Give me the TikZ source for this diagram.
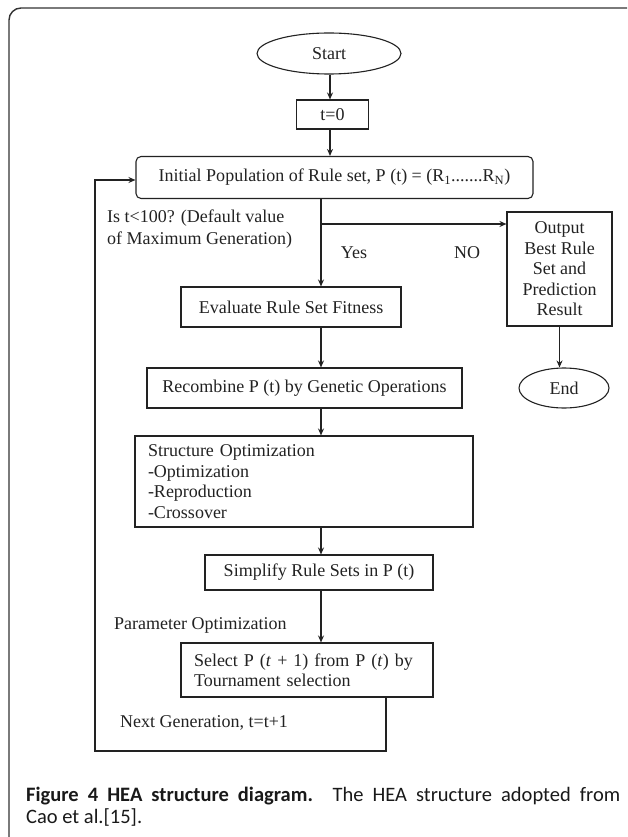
\documentclass[tikz,border=0pt]{standalone}
\usepackage{fontspec}
\setmainfont{Liberation Serif}
\newfontfamily\capfont{Carlito}
\usetikzlibrary{shapes.geometric,arrows.meta}
\definecolor{ink}{HTML}{222222}
\begin{document}
\begin{tikzpicture}[x=1pt,y=-1pt,
  diafont/.style={font=\fontsize{18}{20.5}\selectfont},
  box/.style={draw=ink, line width=1.1pt, inner sep=0pt, align=center, text=ink, diafont},
  oval/.style={ellipse, draw=ink, line width=1.1pt, inner sep=0pt, text=ink, diafont},
  arr/.style={-{Stealth[length=7pt,width=6pt]}, line width=1.1pt, draw=ink},
  lbl/.style={inner sep=0pt, text=ink, diafont, align=left},
  capstyle/.style={inner sep=0pt, anchor=base west, font=\capfont\fontsize{20.5}{24}\selectfont, text=black!90},
  frame/.style={line width=1.4pt, draw=black!80}
]
\useasboundingbox (0,0) rectangle (627,837);
\begin{scope}
\clip (0,0) rectangle (627,837);
\draw[frame] (9,850) -- (9,20) arc[start angle=180, end angle=270, radius=12] -- (640,8);
\end{scope}

% nodes
\node[oval, minimum width=144pt, minimum height=41pt] (start) at (329,53.5) {Start};
\node[box, minimum width=72pt, minimum height=29pt] (t0) at (332.5,114.5) {t=0};
\node[box, rounded corners=5pt, minimum width=397pt, minimum height=42pt] (init) at (334.5,177.5)
  {Initial Population of Rule set, P (t) = (R\textsubscript{1}.......R\textsubscript{N})};
\node[box, minimum width=220pt, minimum height=40pt] (eval) at (291,307) {Evaluate Rule Set Fitness};
\node[box, minimum width=315pt, minimum height=40pt] (rec) at (304.5,388) {Recombine P (t) by Genetic Operations};
\node[box, align=left, text width=312pt, minimum width=338pt, minimum height=91pt] (struct) at (304,481.5)
  {Structure Optimization\\-Optimization\\-Reproduction\\-Crossover};
\node[box, minimum width=228pt, minimum height=35pt] (simp) at (319,572.5) {Simplify Rule Sets in P (t)};
\node[box, align=left, text width=226pt, minimum width=252pt, minimum height=54pt] (sel) at (307,670)
  {Select P (\textit{t} + 1) from P (\textit{t}) by\\Tournament selection};
\node[box, minimum width=105pt, minimum height=114pt] (out) at (559.5,269)
  {Output\\Best Rule\\Set and\\Prediction\\Result};
\node[oval, minimum width=90pt, minimum height=40pt] (end) at (564,388) {End};

% labels
\node[lbl, anchor=west] (q1) at (107,218) {Is t<100? (Default value};
\node[lbl, anchor=west] (q2) at (107,240) {of Maximum Generation)};
\node[lbl] (yes) at (354,253) {Yes};
\node[lbl] (no) at (467,253) {NO};
\node[lbl, anchor=west] (param) at (114,625) {Parameter Optimization};
\node[lbl, anchor=west] (next) at (120,723) {Next Generation, t=t+1};

% coordinates
\coordinate (sp) at (321,0);
\coordinate (tp) at (330,0);
\coordinate (br) at (321,224);
\coordinate (lp) at (386,751);
\coordinate (ll) at (95,751);
\coordinate (lu) at (95,180);

% connectors
\draw[arr] (start.south -| tp) -- (t0.north -| tp);
\draw[arr] (t0.south -| tp) -- (init.north -| tp);
\draw[arr] (init.south -| sp) -- (eval.north -| sp);
\draw[arr] (br) -- (br -| out.west);
\draw[arr] (out.south) -- (out.south |- end.north);
\draw[arr] (eval.south -| sp) -- (rec.north -| sp);
\draw[arr] (rec.south -| sp) -- (struct.north -| sp);
\draw[arr] (struct.south -| sp) -- (simp.north -| sp);
\draw[arr] (simp.south -| sp) -- (sel.north -| sp);
\draw[arr] (sel.south -| lp) -- (lp) -- (ll) -- (lu) -- (lu -| init.west);

% caption
\node[capstyle] (cap1) at (26,801)
  {\makebox[594pt][s]{\textbf{Figure 4 HEA structure diagram.} The HEA structure adopted from}};
\node[capstyle] (cap2) at (26,823)
  {Cao et al.[15].};
\end{tikzpicture}
\end{document}
